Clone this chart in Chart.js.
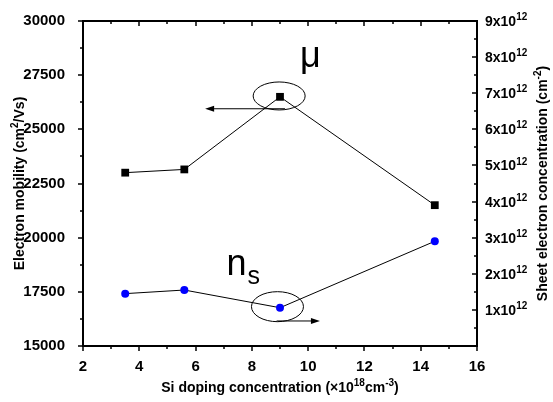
<!DOCTYPE html>
<html>
<head>
<meta charset="utf-8">
<script src="https://cdn.jsdelivr.net/npm/chart.js@4"></script>
<style>
  html, body { margin: 0; padding: 0; background: #fff; }
</style>
</head>
<body>
<canvas id="chart" width="553" height="402"></canvas>
<script>
// Si doping level (x1e18 cm^-3) and the two measured quantities
const doping = [3.5, 5.6, 9, 14.5];
const mobility = [23000, 23150, 26500, 21500];          // cm^2/Vs, left axis
const sheetDensity = [1.45e12, 1.55e12, 1.06e12, 2.9e12]; // cm^-2, right axis

const xTicks = [2, 4, 6, 8, 10, 12, 14, 16];
const yTicks = [15000, 17500, 20000, 22500, 25000, 27500, 30000];
const y1Ticks = [1, 2, 3, 4, 5, 6, 7, 8, 9]; // x10^12

const FONT = "'Liberation Sans', Arial, sans-serif";

// Annotation anchors, in data units of the left/bottom axes
const muNote = { cx: 8.97, cy: 26540, arrowFrom: 9.18, arrowTo: 6.34, arrowY: 25950, labelX: 9.71, labelY: 27900 };
const nsNote = { cx: 8.91, cy: 16815, arrowFrom: 8.88, arrowTo: 10.42, arrowY: 16155, labelX: 7.1, labelY: 18280 };

function fontFor(size, kind, weight) {
    const s = kind ? Math.round(size * 0.72) : size;
    return `${weight || 'bold'} ${s}px ${FONT}`;
}

// Draws text with superscript/subscript runs; y is the baseline
function drawRich(ctx, parts, x, y, size, align, weight) {
    const widths = parts.map(([t, k]) => {
        ctx.font = fontFor(size, k, weight);
        return ctx.measureText(t).width;
    });
    const total = widths.reduce((a, b) => a + b, 0);
    let cx = align === 'center' ? x - total / 2 : align === 'right' ? x - total : x;
    ctx.textAlign = 'left';
    ctx.textBaseline = 'alphabetic';
    parts.forEach(([t, k], i) => {
        ctx.font = fontFor(size, k, weight);
        const dy = k === 'sup' ? -size * 0.42 : k === 'sub' ? size * 0.25 : 0;
        ctx.fillText(t, cx, y + dy);
        cx += widths[i];
    });
}

function arrow(ctx, x1, y1, x2, y2) {
    const dir = Math.sign(x2 - x1);
    ctx.beginPath();
    ctx.moveTo(x1, y1);
    ctx.lineTo(x2 - dir * 6, y2);
    ctx.stroke();
    ctx.beginPath();
    ctx.moveTo(x2, y2);
    ctx.lineTo(x2 - dir * 9, y2 - 3);
    ctx.lineTo(x2 - dir * 9, y2 + 3);
    ctx.closePath();
    ctx.fill();
}

// Box frame, Origin-style major/minor ticks, right-axis labels and titles
const frameAndLabels = {
    id: 'frameAndLabels',
    afterDraw(chart) {
        const ctx = chart.ctx;
        const { left, right, top, bottom } = chart.chartArea;
        const xs = chart.scales.x, ys = chart.scales.y, y1s = chart.scales.y1;
        ctx.save();
        ctx.strokeStyle = '#000';
        ctx.fillStyle = '#000';
        ctx.lineWidth = 2;
        ctx.strokeRect(left, top, right - left, bottom - top);

        ctx.lineWidth = 1.5;
        const tick = (x1, y1, x2, y2) => {
            ctx.beginPath(); ctx.moveTo(x1, y1); ctx.lineTo(x2, y2); ctx.stroke();
        };
        for (let v = 2; v <= 16; v += 1) {
            const px = Math.round(xs.getPixelForValue(v));
            const len = v % 2 === 0 ? 5 : 3;
            tick(px, bottom, px, bottom + len);
            tick(px, top, px, top + len);
        }
        for (let v = 15000; v <= 30000; v += 1250) {
            const py = Math.round(ys.getPixelForValue(v));
            const len = v % 2500 === 0 ? 5 : 3;
            tick(left, py, left - len, py);
        }
        for (let v = 0; v <= 9; v += 0.5) {
            const py = Math.round(y1s.getPixelForValue(v * 1e12));
            const len = Number.isInteger(v) ? 5 : 3;
            tick(right, py, right - len, py);
        }

        // right axis labels: Nx10^12
        y1Ticks.forEach(n => {
            const py = y1s.getPixelForValue(n * 1e12);
            drawRich(ctx, [[`${n}x10`], ['12', 'sup']], right + 8, py + 5, 14, 'left');
        });

        // axis titles
        drawRich(ctx, [['Si doping concentration (\u00d710'], ['18', 'sup'], ['cm'], ['-3', 'sup'], [')']],
            (left + right) / 2, 392, 14, 'center');

        ctx.save();
        ctx.translate(19, (top + bottom) / 2);
        ctx.rotate(-Math.PI / 2);
        drawRich(ctx, [['Electron mobility (cm'], ['2', 'sup'], ['/Vs)']], 0, 5, 14, 'center');
        ctx.restore();

        ctx.save();
        ctx.translate(542, (top + bottom) / 2);
        ctx.rotate(-Math.PI / 2);
        drawRich(ctx, [['Sheet electron concentration (cm'], ['-2', 'sup'], [')']], 0, 5, 14, 'center');
        ctx.restore();

        // ellipses, arrows and series labels
        ctx.lineWidth = 1;
        [[muNote, 26, 14], [nsNote, 26, 15]].forEach(([n, rx, ry]) => {
            ctx.beginPath();
            ctx.ellipse(xs.getPixelForValue(n.cx), ys.getPixelForValue(n.cy), rx, ry, 0, 0, Math.PI * 2);
            ctx.stroke();
            const ay = ys.getPixelForValue(n.arrowY);
            arrow(ctx, xs.getPixelForValue(n.arrowFrom), ay, xs.getPixelForValue(n.arrowTo), ay);
        });
        drawRich(ctx, [['\u03bc']], xs.getPixelForValue(muNote.labelX), ys.getPixelForValue(muNote.labelY), 36, 'left', 'normal');
        ctx.font = `normal 36px ${FONT}`;
        const nx = xs.getPixelForValue(nsNote.labelX), ny = ys.getPixelForValue(nsNote.labelY);
        ctx.fillText('n', nx, ny);
        const nw = ctx.measureText('n').width;
        ctx.font = `normal 25px ${FONT}`;
        ctx.fillText('s', nx + nw + 1, ny + 9);
        ctx.restore();
    }
};

const tickFont = { family: FONT, size: 15, weight: 'bold' };

new Chart(document.getElementById('chart'), {
    type: 'line',
    data: {
        datasets: [
            {
                data: doping.map((x, i) => ({ x, y: mobility[i] })),
                yAxisID: 'y',
                borderColor: '#000',
                borderWidth: 1,
                pointStyle: 'rect',
                pointRadius: 5.5,
                pointBackgroundColor: '#000',
                pointBorderColor: '#000',
                pointBorderWidth: 0
            },
            {
                data: doping.map((x, i) => ({ x, y: sheetDensity[i] })),
                yAxisID: 'y1',
                borderColor: '#000',
                borderWidth: 1,
                pointStyle: 'circle',
                pointRadius: 4,
                pointBackgroundColor: '#0000ff',
                pointBorderColor: '#0000ff',
                pointBorderWidth: 0
            }
        ]
    },
    options: {
        responsive: false,
        animation: false,
        layout: { padding: { top: 21, left: 0, right: 0, bottom: 0 } },
        plugins: { legend: { display: false }, tooltip: { enabled: false } },
        scales: {
            x: {
                type: 'linear',
                min: 2,
                max: 16,
                afterBuildTicks: s => { s.ticks = xTicks.map(value => ({ value })); },
                ticks: { font: tickFont, color: '#000', padding: 4, maxRotation: 0 },
                grid: { display: false },
                border: { display: false },
                afterFit: s => { s.height = 56; }
            },
            y: {
                position: 'left',
                min: 15000,
                max: 30000,
                afterBuildTicks: s => { s.ticks = yTicks.map(value => ({ value })); },
                ticks: { font: tickFont, color: '#000', padding: 10, callback: v => String(v) },
                grid: { display: false },
                border: { display: false },
                afterFit: s => { s.width = 83; }
            },
            y1: {
                position: 'right',
                min: 0,
                max: 9e12,
                ticks: { display: false },
                grid: { display: false },
                border: { display: false },
                afterFit: s => { s.width = 76; }
            }
        }
    },
    plugins: [frameAndLabels]
});
</script>
</body>
</html>
